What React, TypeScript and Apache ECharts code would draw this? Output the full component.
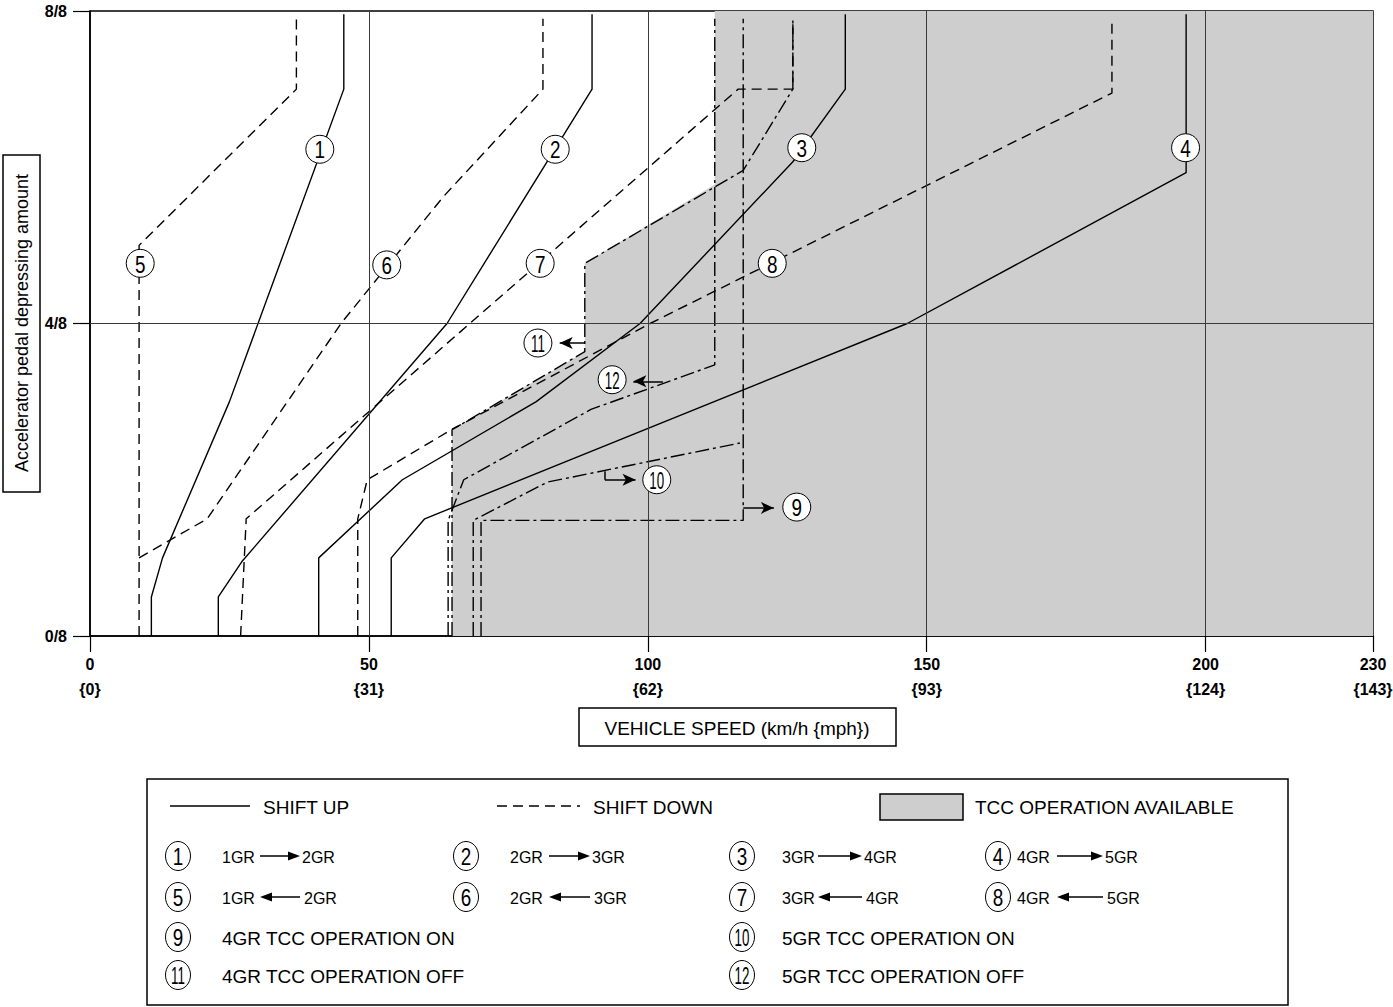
import React, { useEffect, useRef } from "react";
import * as echarts from "echarts";

// ---------- axis data ----------
const speedTicks = [0, 50, 100, 150, 200, 230];
const mphTicks = [0, 31, 62, 93, 124, 143];
const pedalTicks = [0, 4, 8];
const speedGrid = [50, 100, 150, 200];
const pedalGrid = [4];

// ---------- shift up (solid) : [km/h, pedal eighths] ----------
const up12 = [[11, 0], [11, 0.5], [13, 1], [25, 3], [45.5, 7], [45.5, 7.96]];
const up23 = [[23, 0], [23, 0.5], [27.2, 0.95], [64, 4], [90, 7], [90, 7.96]];
const up34 = [[41, 0], [41, 1], [56, 2], [80, 3], [98.6, 4], [126, 6.07], [135.4, 7], [135.4, 7.96]];
const up45 = [[54, 0], [54, 1], [60, 1.5], [146.5, 4], [196.5, 5.93], [196.5, 7.96]];

// ---------- shift down (dashed) ----------
const down21 = [[8.8, 0], [8.8, 5], [37, 7], [37, 7.9]];
const down32 = [[8.8, 1], [21, 1.5], [45, 4], [63.3, 5.62], [81.2, 7], [81.2, 7.9]];
const down43 = [[27, 0], [28, 1.5], [116.2, 7], [126, 7], [126, 7.9]];
const down54 = [[48, 0], [48, 1.5], [49.7, 2], [65, 2.65], [100.4, 4], [183.2, 6.95], [183.2, 7.9]];

// ---------- TCC (dash-dot) ----------
const tcc4On = [[70.1, 0], [70.1, 1.48], [117.1, 1.48], [117.1, 7.9]];
const tcc5On = [[68.7, 0], [68.7, 1.48], [82, 1.97], [116.5, 2.47]];
const tcc4Off = [[64.9, 0], [64.9, 2.64], [88.7, 3.64], [88.7, 4.77], [117.1, 5.96], [126, 7], [126, 7.9]];
const tcc5Off = [[64.2, 0], [64.2, 1.48], [64.9, 1.61], [67, 2], [89.8, 2.9], [112, 3.47], [112, 7.9]];
const tccArea = [[112, 8], [230, 8], [230, 0], [64.9, 0], [64.9, 2.64], [88.7, 3.64], [88.7, 4.77], [112, 5.78]];

// ---------- numbered markers ----------
const markers = [
  [41.2, 6.23, "1"], [83.4, 6.23, "2"], [127.6, 6.25, "3"], [196.4, 6.25, "4"],
  [9, 4.77, "5"], [53.2, 4.75, "6"], [80.7, 4.77, "7"], [122.3, 4.77, "8"],
  [126.7, 1.65, "9"], [101.6, 2.0, "10"], [80.3, 3.75, "11"], [93.6, 3.28, "12"],
];
const arrow9 = [[117.1, 1.64], [122.6, 1.64]];
const arrow10a = [[92.3, 2.11], [92.3, 2.0]];
const arrow10b = [[92.3, 2.0], [97.8, 2.0]];
const arrow11 = [[88.7, 3.75], [84.2, 3.75]];
const arrow12 = [[102.7, 3.26], [97.4, 3.26]];

// ---------- legend texts ----------
const upShifts = [["1", "1GR", "2GR"], ["2", "2GR", "3GR"], ["3", "3GR", "4GR"], ["4", "4GR", "5GR"]];
const downShifts = [["5", "1GR", "2GR"], ["6", "2GR", "3GR"], ["7", "3GR", "4GR"], ["8", "4GR", "5GR"]];
const tccItems = [["9", "4GR TCC OPERATION ON"], ["10", "5GR TCC OPERATION ON"], ["11", "4GR TCC OPERATION OFF"], ["12", "5GR TCC OPERATION OFF"]];

const FONT = '"Liberation Sans", Arial, Helvetica, sans-serif';
const GRAY = "#cecece";
const DASH = [10, 6];
const DASHDOT = [14, 4, 3, 4];

function txt(x: number, y: number, t: string, size: number, align = "left") {
  return {
    type: "text", x, y, z: 10,
    style: { text: t, fill: "#000", fontSize: size, fontFamily: FONT, align, verticalAlign: "middle" },
  };
}
function numText(x: number, y: number, t: string, size: number) {
  return {
    type: "text", x, y, z: 11, scaleX: t.length > 1 ? 0.58 : 0.82,
    style: { text: t, fill: "#000", fontSize: size, fontFamily: FONT, align: "center", verticalAlign: "middle" },
  };
}
function circ(x: number, y: number, t: string) {
  return [
    { type: "ellipse", z: 10, shape: { cx: x, cy: y, rx: 12.5, ry: 14.5 }, style: { fill: "#fff", stroke: "#000", lineWidth: 1 } },
    numText(x, y + 1, t, 23),
  ];
}
function arrowR(x1: number, x2: number, y: number) {
  return [
    { type: "line", z: 10, shape: { x1, y1: y, x2: x2 - 8, y2: y }, style: { stroke: "#000", lineWidth: 1.5 } },
    { type: "polygon", z: 10, shape: { points: [[x2, y], [x2 - 12, y - 4.5], [x2 - 12, y + 4.5]] }, style: { fill: "#000" } },
  ];
}
function arrowL(x1: number, x2: number, y: number) {
  return [
    { type: "line", z: 10, shape: { x1: x1 + 8, y1: y, x2, y2: y }, style: { stroke: "#000", lineWidth: 1.5 } },
    { type: "polygon", z: 10, shape: { points: [[x1, y], [x1 + 12, y - 4.5], [x1 + 12, y + 4.5]] }, style: { fill: "#000" } },
  ];
}

export default function App() {
  const ref = useRef<HTMLDivElement>(null);
  useEffect(() => {
    const chart = echarts.init(ref.current!, null, { renderer: "svg" });

    const lineDefs: any[] = [
      [up12, "solid"], [up23, "solid"], [up34, "solid"], [up45, "solid"],
      [down21, DASH], [down32, DASH], [down43, DASH], [down54, DASH],
      [tcc4On, DASHDOT], [tcc5On, DASHDOT], [tcc4Off, DASHDOT], [tcc5Off, DASHDOT],
    ];

    const colX = [178, 466, 742, 998];
    const t1X = [222, 510, 782, 1017];
    const aX1 = [260, 549, 818, 1057];
    const aX2 = [300, 590, 862, 1103];
    const t2X = [302, 592, 864, 1105];

    const g: any[] = [];
    g.push({ type: "rect", z: 10, shape: { x: 3, y: 155, width: 37, height: 337 }, style: { fill: "#fff", stroke: "#000", lineWidth: 1.5 } });
    g.push({
      type: "text", z: 10, x: 22, y: 323, rotation: Math.PI / 2,
      style: { text: "Accelerator pedal depressing amount", fill: "#000", fontSize: 18, fontFamily: FONT, align: "center", verticalAlign: "middle" },
    });
    g.push({ type: "rect", z: 10, shape: { x: 579, y: 708, width: 317, height: 38 }, style: { fill: "#fff", stroke: "#000", lineWidth: 1.5 } });
    g.push(txt(737, 728, "VEHICLE SPEED (km/h {mph})", 19, "center"));
    g.push({ type: "rect", z: 9, shape: { x: 147, y: 779, width: 1141, height: 226 }, style: { fill: "#fff", stroke: "#000", lineWidth: 1.5 } });
    g.push({ type: "line", z: 10, shape: { x1: 170, y1: 806, x2: 250, y2: 806 }, style: { stroke: "#000", lineWidth: 1.5 } });
    g.push(txt(263, 807, "SHIFT UP", 19));
    g.push({ type: "line", z: 10, shape: { x1: 497, y1: 806, x2: 580, y2: 806 }, style: { stroke: "#000", lineWidth: 1.5, lineDash: DASH } });
    g.push(txt(593, 807, "SHIFT DOWN", 19));
    g.push({ type: "rect", z: 10, shape: { x: 880, y: 794, width: 83, height: 26 }, style: { fill: GRAY, stroke: "#000", lineWidth: 1.5 } });
    g.push(txt(975, 807, "TCC OPERATION AVAILABLE", 19));
    upShifts.forEach((it, i) => {
      g.push(...circ(colX[i], 856, it[0]));
      g.push(txt(t1X[i], 857, it[1], 16));
      g.push(...arrowR(aX1[i], aX2[i], 856));
      g.push(txt(t2X[i], 857, it[2], 16));
    });
    downShifts.forEach((it, i) => {
      g.push(...circ(colX[i], 897, it[0]));
      g.push(txt(t1X[i], 898, it[1], 16));
      g.push(...arrowL(aX1[i], aX2[i], 897));
      g.push(txt(t2X[i] + 2, 898, it[2], 16));
    });
    tccItems.forEach((it, i) => {
      const cx = i % 2 === 0 ? colX[0] : colX[2];
      const tx = i % 2 === 0 ? t1X[0] : t1X[2];
      const cy = i < 2 ? 937 : 975;
      g.push(...circ(cx, cy, it[0]));
      g.push(txt(tx, cy + 1, it[1], 19));
    });

    const seg = (p: number[][], s0 = "none", s1 = "arrow") => [
      { coord: p[0], symbol: s0 },
      { coord: p[1], symbol: s1 },
    ];

    const option: any = {
      animation: false,
      backgroundColor: "#fff",
      grid: {
        left: 90, top: 11, width: 1283, height: 625, show: true, borderColor: "#000", borderWidth: 1.5,
        backgroundColor: "transparent", outerBoundsMode: "none", containLabel: false,
      },
      xAxis: {
        type: "value", min: 0, max: 230, interval: 10,
        axisLine: { show: true, onZero: false, lineStyle: { color: "#000", width: 1.5 } },
        axisTick: { show: true, customValues: speedTicks, length: 16, inside: false, lineStyle: { color: "#000", width: 1.2 } },
        axisLabel: {
          customValues: speedTicks, margin: 16, color: "#000", fontWeight: "bold", fontSize: 16, fontFamily: FONT, lineHeight: 25,
          formatter: (v: number) => { const i = speedTicks.indexOf(v); return `${v}\n{${mphTicks[i]}}`; },
        },
        splitLine: { show: false },
      },
      yAxis: {
        type: "value", min: 0, max: 8, interval: 4,
        axisLine: { show: true, onZero: false, lineStyle: { color: "#000", width: 1.5 } },
        axisTick: { show: true, length: 17, inside: false, lineStyle: { color: "#000", width: 1.2 } },
        axisLabel: { margin: 23, color: "#000", fontWeight: "bold", fontSize: 16, fontFamily: FONT, formatter: (v: number) => `${v}/8` },
        splitLine: { show: false },
      },
      graphic: { elements: g },
      series: [
        {
          type: "custom", z: 1, silent: true, data: [[0, 0]],
          renderItem: (_p: any, api: any) => ({
            type: "polygon",
            shape: { points: tccArea.map((p) => api.coord(p)) },
            style: { fill: GRAY },
          }),
        },
        {
          type: "line", z: 2, data: [[0, 0]], symbol: "none", lineStyle: { opacity: 0 },
          markLine: {
            silent: true, symbol: ["none", "none"], label: { show: false },
            lineStyle: { color: "#3a3a3a", width: 1, type: "solid" },
            data: [...speedGrid.map((v) => ({ xAxis: v })), ...pedalGrid.map((v) => ({ yAxis: v }))],
          },
        },
        ...lineDefs.map(([d, t]) => ({
          type: "line", z: 3, data: d, symbol: "none", showSymbol: false,
          lineStyle: { color: "#000", width: 1.4, type: t },
        })),
        {
          type: "line", z: 4, data: [[0, 0]], symbol: "none", lineStyle: { opacity: 0 },
          markLine: {
            silent: true, symbolSize: [9, 13], label: { show: false },
            lineStyle: { color: "#000", width: 1.5, type: "solid" },
            data: [seg(arrow9), seg(arrow10a, "none", "none"), seg(arrow10b), seg(arrow11), seg(arrow12)],
          },
        },
        {
          type: "custom", z: 5, silent: true, clip: false,
          data: markers.map((m) => [m[0], m[1]]),
          renderItem: (params: any, api: any) => {
            const p = api.coord([api.value(0), api.value(1)]);
            const t = String(markers[params.dataIndex][2]);
            return {
              type: "group",
              children: [
                { type: "circle", shape: { cx: p[0], cy: p[1], r: 14 }, style: { fill: "#fff", stroke: "#000", lineWidth: 1 } },
                {
                  type: "text", x: p[0], y: p[1] + 1, scaleX: t.length > 1 ? 0.58 : 0.82,
                  style: { text: t, fill: "#000", fontSize: 23, fontFamily: FONT, align: "center", verticalAlign: "middle" },
                },
              ],
            };
          },
        },
      ],
    };
    chart.setOption(option);
    return () => chart.dispose();
  }, []);
  return <div ref={ref} style={{ position: "fixed", left: 0, top: 0, width: 1393, height: 1007, background: "#fff" }} />;
}
